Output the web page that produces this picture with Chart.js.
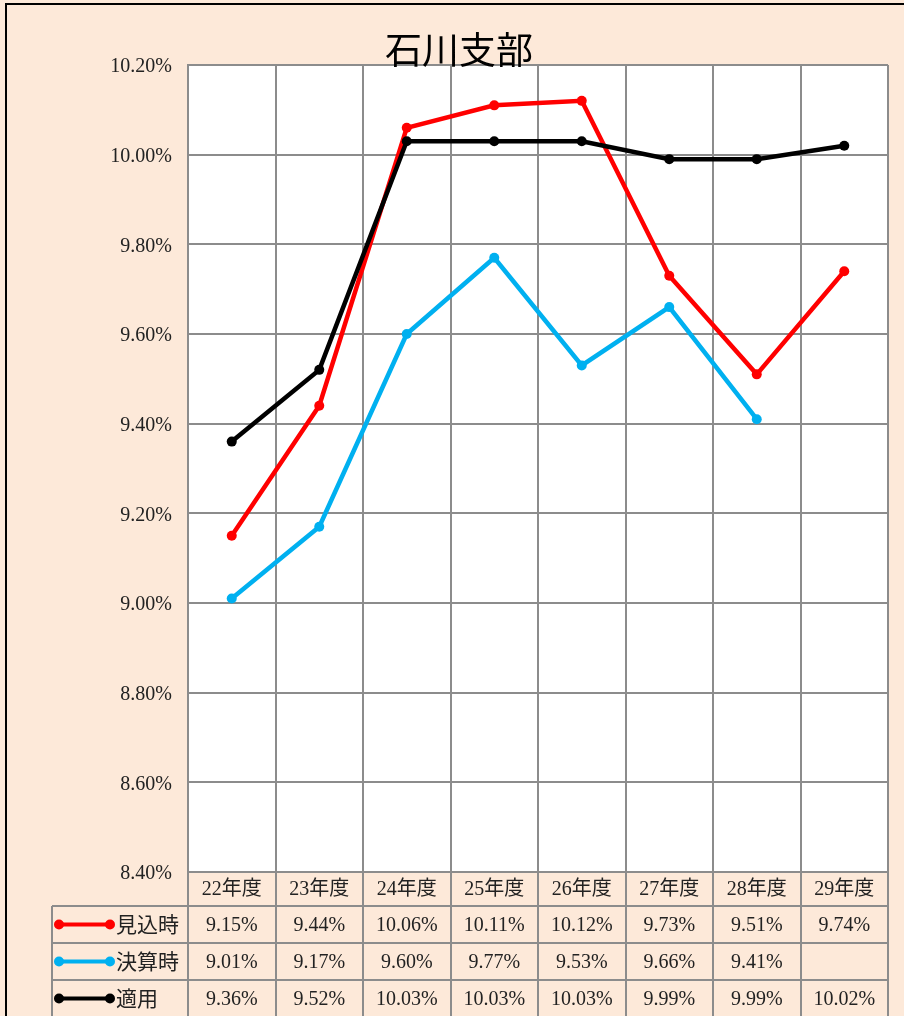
<!DOCTYPE html>
<html>
<head>
<meta charset="utf-8">
<script src="https://cdn.jsdelivr.net/npm/chart.js@4.4.0/dist/chart.umd.min.js"></script>
<style>
	html, body { margin: 0; padding: 0; background: #fde9d9; }
	canvas { display: block; }
</style>
</head>
<body>
<canvas id="chart" width="904" height="1016"></canvas>
<script>
const categories = ['22年度', '23年度', '24年度', '25年度', '26年度', '27年度', '28年度', '29年度']
const mikomi = [9.15, 9.44, 10.06, 10.11, 10.12, 9.73, 9.51, 9.74]
const kessan = [9.01, 9.17, 9.60, 9.77, 9.53, 9.66, 9.41, null]
const tekiyo = [9.36, 9.52, 10.03, 10.03, 10.03, 9.99, 9.99, 10.02]
const seriesNames = ['見込時', '決算時', '適用']
const seriesColors = ['#ff0000', '#00b0f0', '#000000']
const yTicks = [8.4, 8.6, 8.8, 9.0, 9.2, 9.4, 9.6, 9.8, 10.0, 10.2]

const PEACH = '#fde9d9'
const GRID = '#8c8c8c'
const serif = '"Liberation Serif", "Noto Sans CJK JP", serif'
const cjk = '"Noto Sans CJK JP", sans-serif'

function fmt(v) {
	return v === null ? '' : v.toFixed(2) + '%'
}

// background, plot area, title, data table and border
const decor = {
	id: 'decor',
	beforeDraw(chart) {
		const { ctx, chartArea } = chart
		ctx.save()
		ctx.fillStyle = PEACH
		ctx.fillRect(0, 0, chart.width, chart.height)
		ctx.fillStyle = '#ffffff'
		ctx.fillRect(chartArea.left, chartArea.top, chartArea.right - chartArea.left, chartArea.bottom - chartArea.top)
		ctx.restore()
	},
	afterDraw(chart) {
		const { ctx, chartArea } = chart
		const x = chart.scales.x
		const half = (x.getPixelForValue(1) - x.getPixelForValue(0)) / 2
		const top = chartArea.bottom
		const rows = [top, 906, 943, 980, 1017]
		const legendLeft = 52
		const all = [mikomi, kessan, tekiyo]

		ctx.save()
		// title
		ctx.fillStyle = '#000'
		ctx.font = '37px ' + cjk
		ctx.textAlign = 'center'
		ctx.textBaseline = 'middle'
		ctx.fillText('石川支部', 459, 50)

		// table lines
		ctx.strokeStyle = GRID
		ctx.lineWidth = 2
		ctx.beginPath()
		for (let i = 0; i <= categories.length; i++) {
			const px = Math.round(x.getPixelForValue(i) - half)
			ctx.moveTo(px, top)
			ctx.lineTo(px, 1016)
		}
		for (let r = 1; r < rows.length - 1; r++) {
			ctx.moveTo(legendLeft, rows[r])
			ctx.lineTo(chartArea.right + 1, rows[r])
		}
		ctx.moveTo(legendLeft, rows[1])
		ctx.lineTo(legendLeft, 1016)
		ctx.stroke()

		// header row
		ctx.fillStyle = '#222'
		ctx.font = '20px ' + serif
		categories.forEach((c, i) => {
			ctx.fillText(c, x.getPixelForValue(i), (rows[0] + rows[1]) / 2 + 1)
		})

		// series rows
		all.forEach((data, s) => {
			const cy = (rows[s + 1] + rows[s + 2]) / 2
			// legend key
			ctx.strokeStyle = seriesColors[s]
			ctx.fillStyle = seriesColors[s]
			ctx.lineWidth = 4
			ctx.beginPath()
			ctx.moveTo(59, cy)
			ctx.lineTo(110, cy)
			ctx.stroke()
			;[59, 110].forEach(px => {
				ctx.beginPath()
				ctx.arc(px, cy, 5, 0, Math.PI * 2)
				ctx.fill()
			})
			ctx.fillStyle = '#222'
			ctx.textAlign = 'left'
			ctx.font = '21px ' + cjk
			ctx.fillText(seriesNames[s], 116, cy)
			ctx.textAlign = 'center'
			ctx.font = '20px ' + serif
			data.forEach((v, i) => {
				ctx.fillText(fmt(v), x.getPixelForValue(i), cy + 1)
			})
		})

		// outer border
		ctx.strokeStyle = '#000'
		ctx.lineWidth = 2
		ctx.strokeRect(6, 4, 920, 1040)
		ctx.restore()
	},
}

const ctx = document.getElementById('chart').getContext('2d')
new Chart(ctx, {
	type: 'line',
	data: {
		labels: categories,
		datasets: [
			{ label: seriesNames[0], data: mikomi, borderColor: seriesColors[0], backgroundColor: seriesColors[0], order: 2 },
			{ label: seriesNames[1], data: kessan, borderColor: seriesColors[1], backgroundColor: seriesColors[1], order: 1 },
			{ label: seriesNames[2], data: tekiyo, borderColor: seriesColors[2], backgroundColor: seriesColors[2], order: 0 },
		],
	},
	options: {
		responsive: false,
		animation: false,
		layout: { padding: { left: 0, top: 65, right: 16, bottom: 144 } },
		elements: {
			line: { borderWidth: 4.5, tension: 0 },
			point: { radius: 5, borderWidth: 0, hoverRadius: 5 },
		},
		plugins: {
			legend: { display: false },
			title: { display: false },
			tooltip: { enabled: false },
		},
		scales: {
			x: {
				offset: true,
				grid: { offset: true, color: GRID, lineWidth: 2, drawTicks: false },
				border: { color: GRID, width: 2 },
				ticks: { display: false },
				afterFit(scale) { scale.height = 0 },
			},
			y: {
				min: 8.4,
				max: 10.2,
				afterBuildTicks(scale) {
					scale.ticks = yTicks.map(v => ({ value: v }))
				},
				grid: { color: GRID, lineWidth: 2, drawTicks: false },
				border: { color: GRID, width: 2 },
				ticks: {
					padding: 16,
					labelOffset: 2,
					color: '#222',
					font: { family: serif, size: 20 },
					callback: v => v.toFixed(2) + '%',
				},
				afterFit(scale) { scale.width = 188 },
			},
		},
	},
	plugins: [decor],
})
</script>
</body>
</html>
